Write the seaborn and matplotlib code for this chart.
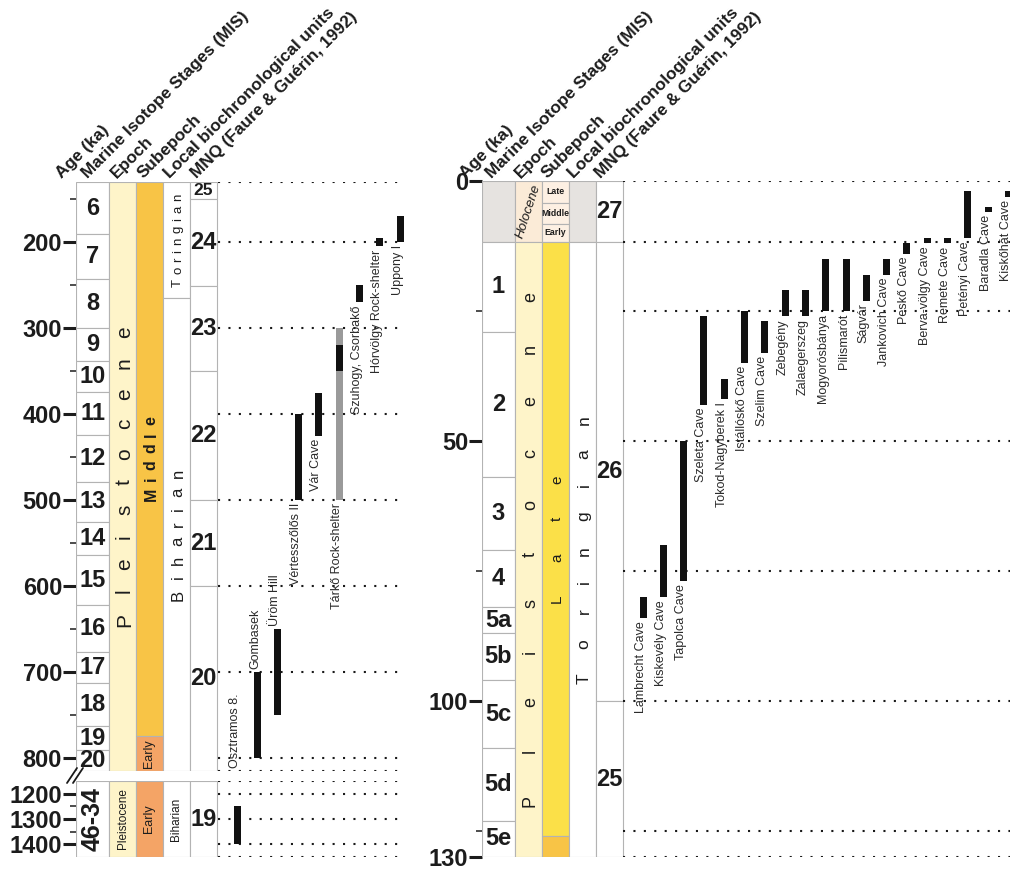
import numpy as np
import matplotlib
matplotlib.use("Agg")
import matplotlib.pyplot as plt
import seaborn as sns
from matplotlib.lines import Line2D
from matplotlib.textpath import TextToPath
from matplotlib.font_manager import FontProperties

sns.set_theme(style="white")
plt.rcParams["font.family"] = ["Liberation Sans", "DejaVu Sans"]

W, H, DPI = 1010, 872, 100

# ---------------- data: Middle & Early Pleistocene (left panel) ----------------
mis_left_labels = ["6", "7", "8", "9", "10", "11", "12", "13", "14", "15", "16", "17", "18", "19", "20"]
mis_left_bounds = [130, 191, 243, 300, 338, 374, 424, 479, 525, 564, 622, 677, 713, 763, 791, 815]
epoch_left_bounds = [130, 815]
sub_left_labels = ["Middle", "Early"]
sub_left_bounds = [130, 774, 815]
local_left_labels = ["Toringian", "Biharian"]
local_left_bounds = [130, 265, 815]
mnq_left_labels = ["25", "24", "23", "22", "21", "20"]
mnq_left_bounds = [130, 150, 251, 350, 500, 600, 815]
age_left_major = [200, 300, 400, 500, 600, 700, 800]
age_left_minor = [150, 250, 350, 450, 550, 650, 750]
dots_left = [130, 200, 300, 400, 500, 600, 700, 800, 815]

# Early Pleistocene block below the break
low_bounds = [1150, 1450]
low_mis = "46-34"
low_epoch = "Pleistocene"
low_sub = "Early"
low_local = "Biharian"
low_mnq = "19"
age_low_major = [1200, 1300, 1400]
age_low_minor = [1250, 1350]
dots_low = [1150, 1200, 1300, 1400, 1450]

sites_left = ["Osztramos 8.", "Gombasek", "Üröm Hill", "Vértesszőlős II", "Vár Cave",
              "Tárkő Rock-shelter", "Szuhogy, Csorbakő", "Hórvölgy Rock-shelter", "Uppony I"]
sites_left_start = [1250, 700, 650, 400, 375, 300, 250, 195, 170]
sites_left_end = [1400, 800, 750, 500, 425, 500, 270, 205, 200]
sites_left_uncertain = [False, False, False, False, False, True, False, False, False]
tarko_core = (320, 350)

# ---------------- data: Late Pleistocene & Holocene (right panel) ----------------
mis_right_labels = ["", "1", "2", "3", "4", "5a", "5b", "5c", "5d", "5e"]
mis_right_bounds = [0, 11.7, 29, 57, 71, 82, 87, 96, 109, 123, 130]
epoch_right_labels = ["Holocene", "Pleistocene"]
epoch_right_bounds = [0, 11.7, 130]
holo_sub_labels = ["Late", "Middle", "Early"]
holo_sub_bounds = [0, 4.2, 8.2, 11.7]
sub_right_labels = ["Late", "Middle"]
sub_right_bounds = [11.7, 126, 130]
local_right_labels = ["", "Toringian"]
local_right_bounds = [0, 11.7, 130]
mnq_right_labels = ["27", "26", "25"]
mnq_right_bounds = [0, 11.7, 100, 130]
age_right_major = [0, 50, 100, 130]
age_right_minor = [25, 75, 125]
dots_right = [0, 11.7, 25, 50, 75, 100, 125, 130]

sites_right = ["Lambrecht Cave", "Kiskevély Cave", "Tapolca Cave", "Szeleta Cave", "Tokod-Nagyberek I",
               "Istállóskő Cave", "Szelim Cave", "Zebegény", "Zalaegerszeg", "Mogyorósbánya",
               "Pilismarót", "Ságvár", "Jankovich Cave", "Peskő Cave", "Berva-völgy Cave",
               "Remete Cave", "Petényi Cave", "Baradla Cave", "Kiskőhát Cave"]
sites_right_start = [80, 70, 50, 26, 38, 25, 27, 21, 21, 15, 15, 18, 15, 12, 11, 11, 2, 5, 2]
sites_right_end = [84, 80, 77, 43, 42, 35, 33, 26, 26, 25, 25, 23, 18, 14, 12, 12, 11, 6, 3]

headers = ["Age (ka)", "Marine Isotope Stages (MIS)", "Epoch", "Subepoch",
           "Local biochronological units", "MNQ (Faure & Guérin, 1992)"]

# ---------------- styling ----------------
TXT = "#1c1c1c"
EDGE = "#b3b3b3"
C_PLEIST = "#fef4c9"
C_MIDDLE = "#f8c446"
C_EARLY = "#f4a466"
C_LATE = "#fbe048"
C_HOLO = "#fbebd7"
C_HOLO_SUB = "#fdf0e3"
C_GREY = "#e6e3e0"
BAR = "#111111"
DOT = (0, (1, 4))
BIG = 17

fig = plt.figure(figsize=(W / DPI, H / DPI), dpi=DPI)
fig.patch.set_facecolor("white")
ttp = TextToPath()


def px_axes(x0, x1, y_top, y_bot, ylim):
    ax = fig.add_axes([x0 / W, 1 - y_bot / H, (x1 - x0) / W, (y_bot - y_top) / H])
    ax.set_xlim(x0, x1)
    ax.set_ylim(*ylim)
    ax.patch.set_alpha(0)
    for s in ax.spines.values():
        s.set_visible(False)
    ax.set_xticks([])
    ax.grid(False)
    return ax


def age_axis(ax, major, minor):
    ax.set_yticks(major, labels=[str(v) for v in major], fontsize=BIG, fontweight="bold", color=TXT)
    ax.set_yticks(minor, minor=True)
    ax.tick_params(axis="y", which="major", left=True, length=9.5, width=2.2, pad=0.5, color=TXT)
    ax.tick_params(axis="y", which="minor", left=True, length=4, width=1.1, color=TXT)


def cells(ax, left, width, bounds, colors):
    b = np.asarray(bounds, dtype=float)
    ax.bar(left + width / 2, b[1:] - b[:-1], bottom=b[:-1], width=width,
           color=colors, edgecolor=EDGE, linewidth=0.8, zorder=1)


def mid(bounds):
    b = np.asarray(bounds, dtype=float)
    return (b[1:] + b[:-1]) / 2


def tracked(ax, x, y_mid, span_px, text, size, weight="normal"):
    fp = FontProperties(family=["Liberation Sans"], size=size, weight=weight)
    letters = [c for c in text]
    widths = [ttp.get_text_width_height_descent(c, fp, ismath=False)[0] * DPI / 72 for c in letters]
    gap = (span_px - sum(widths)) / (len(letters) - 1)
    xd, yd = ax.transData.transform((x, y_mid))
    pos = yd - span_px / 2
    for c, w in zip(letters, widths):
        fig.text(xd / W, (pos + w / 2) / H, c, rotation=90, rotation_mode="anchor",
                 ha="center", va="center_baseline", fontproperties=fp, color=TXT)
        pos += w + gap


def site_bars(ax, xs, starts, ends, colors):
    s = np.asarray(starts, dtype=float)
    e = np.asarray(ends, dtype=float)
    ax.bar(xs, e - s, bottom=s, width=7, color=colors, linewidth=0, zorder=3)


def site_label(ax, x, y, name, above=False):
    ax.annotate(name, xy=(x, y), xytext=(-2.5, 3 if above else -3), textcoords="offset pixels",
                rotation=90, rotation_mode="anchor", ha="left" if above else "right",
                va="center", fontsize=9, color="#2a2a2a")


# ================= left panel: upper section =================
lu = px_axes(76, 420, 182, 771, (815, 130))
age_axis(lu, age_left_major, age_left_minor)
cells(lu, 76, 33, mis_left_bounds, "white")
cells(lu, 109, 27, epoch_left_bounds, C_PLEIST)
cells(lu, 136, 27, sub_left_bounds, [C_MIDDLE, C_EARLY])
cells(lu, 163, 27, local_left_bounds, "white")
cells(lu, 190, 27, mnq_left_bounds, "white")
for lab, y in zip(mis_left_labels, mid(mis_left_bounds)):
    lu.text(92.5, y, lab, ha="center", va="center", fontsize=BIG, fontweight="bold", color=TXT)
for lab, y in zip(mnq_left_labels, mid(mnq_left_bounds)):
    lu.text(203.5, y, lab, ha="center", va="center", fontsize=12.5 if lab == "25" else BIG,
            fontweight="bold", color=TXT)
lu.hlines(dots_left, 218, 400, colors="k", linestyles=DOT, linewidth=1.5, zorder=2)

tracked(lu, 122.5, mid(epoch_left_bounds)[0], 300, "Pleistocene", 15)
sub_mid = mid(sub_left_bounds)
tracked(lu, 149.5, sub_mid[0], 85, sub_left_labels[0], 11.5, "bold")
lu.text(149.5, sub_mid[1], sub_left_labels[1], rotation=90, ha="center", va="center", fontsize=9, color=TXT)
loc_mid = mid(local_left_bounds)
tracked(lu, 176.5, loc_mid[0], 93, local_left_labels[0], 9.5)
tracked(lu, 176.5, loc_mid[1], 132, local_left_labels[1], 12)

# ================= left panel: lower section =================
ll = px_axes(76, 420, 781, 857, (1450, 1150))
age_axis(ll, age_low_major, age_low_minor)
cells(ll, 76, 33, low_bounds, "white")
cells(ll, 109, 27, low_bounds, C_PLEIST)
cells(ll, 136, 27, low_bounds, C_EARLY)
cells(ll, 163, 27, low_bounds, "white")
cells(ll, 190, 27, low_bounds, "white")
ym = mid(low_bounds)[0]
ll.text(92.5, ym, low_mis, rotation=90, ha="center", va="center", fontsize=18, fontweight="bold", color=TXT)
ll.text(122.5, ym, low_epoch, rotation=90, ha="center", va="center", fontsize=8.5, color=TXT)
ll.text(149.5, ym, low_sub, rotation=90, ha="center", va="center", fontsize=9, color=TXT)
ll.text(176.5, ym, low_local, rotation=90, ha="center", va="center", fontsize=8.5, color=TXT)
ll.text(203.5, ym, low_mnq, ha="center", va="center", fontsize=BIG, fontweight="bold", color=TXT)
ll.hlines(dots_low, 218, 400, colors="k", linestyles=DOT, linewidth=1.5, zorder=2)

# axis break marks
for dx in (0, 6):
    fig.add_artist(Line2D([(67 + dx) / W, (77 + dx) / W], [1 - 783 / H, 1 - 768 / H],
                          color="k", linewidth=1.3))

# left sites
xs_left = 237 + 20.4 * np.arange(len(sites_left))
upper = [i for i in range(len(sites_left)) if sites_left_start[i] < 1000]
cols_left = ["#9a9a9a" if sites_left_uncertain[i] else BAR for i in upper]
site_bars(lu, xs_left[upper], np.array(sites_left_start)[upper], np.array(sites_left_end)[upper], cols_left)
site_bars(lu, [xs_left[5]], [tarko_core[0]], [tarko_core[1]], BAR)
lower = [i for i in range(len(sites_left)) if sites_left_start[i] >= 1000]
site_bars(ll, xs_left[lower], np.array(sites_left_start)[lower], np.array(sites_left_end)[lower], BAR)
for i, name in enumerate(sites_left):
    if i in lower:
        site_label(lu, xs_left[i], 815, name, above=True)
    elif name in ("Gombasek", "Üröm Hill"):
        site_label(lu, xs_left[i], sites_left_start[i], name, above=True)
    else:
        site_label(lu, xs_left[i], sites_left_end[i], name)

# ================= right panel =================
r = px_axes(482, 1010, 181, 857, (130, 0))
age_axis(r, age_right_major, age_right_minor)
cells(r, 482, 33, mis_right_bounds, [C_GREY] + ["white"] * (len(mis_right_labels) - 1))
cells(r, 515, 27, epoch_right_bounds, [C_HOLO, C_PLEIST])
cells(r, 542, 27, holo_sub_bounds, C_HOLO_SUB)
cells(r, 542, 27, sub_right_bounds, [C_LATE, C_MIDDLE])
cells(r, 569, 27, local_right_bounds, [C_GREY, "white"])
cells(r, 596, 27, mnq_right_bounds, "white")
for lab, y in zip(mis_right_labels, mid(mis_right_bounds)):
    if lab:
        r.text(498.5, y, lab, ha="center", va="center", fontsize=BIG, fontweight="bold", color=TXT)
for lab, y in zip(mnq_right_labels, mid(mnq_right_bounds)):
    r.text(609.5, y, lab, ha="center", va="center", fontsize=BIG, fontweight="bold", color=TXT)
for lab, y in zip(holo_sub_labels, mid(holo_sub_bounds)):
    r.text(555.5, y, lab, ha="center", va="center", fontsize=6.3, fontweight="bold",
           family=["Liberation Sans Narrow", "Liberation Sans"], color=TXT)
ep_mid = mid(epoch_right_bounds)
r.text(528.5, ep_mid[0], epoch_right_labels[0], rotation=72, ha="center", va="center",
       fontsize=9.5, style="italic", color=TXT)
tracked(r, 528.5, ep_mid[1], 515, epoch_right_labels[1], 13)
tracked(r, 555.5, mid(sub_right_bounds)[0], 127, sub_right_labels[0], 11)
tracked(r, 582.5, mid(local_right_bounds)[1], 269, local_right_labels[1], 12.5)
r.hlines(dots_right, 623, 1010, colors="k", linestyles=DOT, linewidth=1.5, zorder=2)

xs_right = 643 + 20.3 * np.arange(len(sites_right))
site_bars(r, xs_right, sites_right_start, sites_right_end, BAR)
for x, e, name in zip(xs_right, sites_right_end, sites_right):
    site_label(r, x, e, name)

# ================= column headers =================
for x0, y0 in ((62, 179), (466, 179)):
    offs = [0, 26, 55, 81, 108, 135]
    for off, h in zip(offs, headers):
        fig.text((x0 + off) / W, 1 - y0 / H, h, rotation=45, rotation_mode="anchor",
                 ha="left", va="baseline", fontsize=12.3, fontweight="bold", color=TXT)

fig.savefig("out.png", dpi=DPI, facecolor="white")
